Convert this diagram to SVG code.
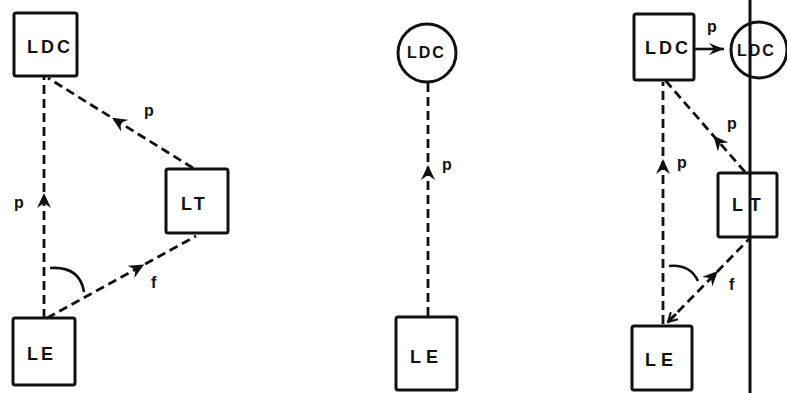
<svg xmlns="http://www.w3.org/2000/svg" width="787" height="393" viewBox="0 0 787 393">
  <style>
    .box { fill: none; stroke: #111; stroke-width: 3; }
    .dash { fill: none; stroke: #111; stroke-width: 2.8; stroke-dasharray: 9 5; }
    .solid { fill: none; stroke: #111; stroke-width: 2.6; }
    .lbl { font-family: "Liberation Sans", Arial, sans-serif; font-weight: bold; font-size: 18px; fill: #111; letter-spacing: 3px; }
    .sym { font-family: "Liberation Sans", Arial, sans-serif; font-weight: bold; font-size: 16px; fill: #111; }
  </style>
  <defs>
    <marker id="head" markerUnits="userSpaceOnUse" markerWidth="16" markerHeight="14" refX="8" refY="7" orient="auto">
      <path d="M0,0 L15,7 L0,14 L5,7 Z" fill="#111"/>
    </marker>
    <marker id="tip" markerUnits="userSpaceOnUse" markerWidth="16" markerHeight="14" refX="15" refY="7" orient="auto">
      <path d="M0,1 L15,7 L0,13 L5,7 Z" fill="#111"/>
    </marker>
    <marker id="open" markerUnits="userSpaceOnUse" markerWidth="12" markerHeight="12" refX="10" refY="6" orient="auto">
      <path d="M1,1 L10,6 L1,11" fill="none" stroke="#111" stroke-width="2"/>
    </marker>
  </defs>
  <rect width="787" height="393" fill="#fff"/>

  <!-- connectors -->
  <g id="connectors">
    <!-- left: LE -> LDC, LT -> LDC, LE -> LT -->
    <path class="dash" d="M44,318 L44,200 L44,77" marker-mid="url(#head)"/>
    <path class="dash" d="M193,168 L118,121.5 L48,78" marker-mid="url(#head)"/>
    <path class="dash" d="M47,318 L138,268 L196,236" marker-mid="url(#head)"/>
    <path class="solid" d="M50,268 Q80,266 84,292"/>
    <text class="sym" x="144" y="116">p</text>
    <text class="sym" x="14" y="208">p</text>
    <text class="sym" x="151" y="288">f</text>

    <!-- middle: LE -> LDC -->
    <path class="dash" d="M428,316 L428,172 L428,82" marker-mid="url(#head)"/>
    <text class="sym" x="442" y="170">p</text>

    <!-- right -->
    <line x1="750" y1="0" x2="750" y2="393" stroke="#111" stroke-width="3"/>
    <path class="solid" d="M695,49 L724,49" marker-end="url(#tip)"/>
    <text class="sym" x="707" y="32">p</text>
    <path class="dash" d="M663,324 L663,166 L663,82" marker-mid="url(#head)"/>
    <text class="sym" x="677" y="168">p</text>
    <path class="dash" d="M745,172 L718,141 L665,80" marker-mid="url(#head)"/>
    <text class="sym" x="727" y="129">p</text>
    <path class="dash" d="M668,322 L713,276 L750,238" marker-mid="url(#head)"/>
    <path class="solid" d="M676,314 L668,322" marker-end="url(#open)"/>
    <path class="solid" d="M669,266 Q690,264 698,281"/>
    <text class="sym" x="729" y="290">f</text>
  </g>

  <!-- left diagram -->
  <g id="ldc-left">
    <rect class="box" x="14" y="13" width="63" height="63" rx="2"/>
    <text class="lbl" x="27" y="53">LDC</text>
  </g>
  <g id="lt-left">
    <rect class="box" x="166" y="169" width="62" height="64" rx="2"/>
    <text class="lbl" x="181" y="210">LT</text>
  </g>
  <g id="le-left">
    <rect class="box" x="13" y="318" width="62" height="67" rx="2"/>
    <text class="lbl" x="27" y="360">LE</text>
  </g>

  <!-- middle diagram -->
  <g id="ldc-middle">
    <circle class="box" cx="427" cy="53" r="29"/>
    <text class="lbl" x="407" y="58" style="font-size:16px;letter-spacing:2px">LDC</text>
  </g>
  <g id="le-middle">
    <rect class="box" x="396" y="317" width="61" height="73" rx="2"/>
    <text class="lbl" x="410" y="363" style="letter-spacing:5px">LE</text>
  </g>

  <!-- right diagram -->
  <g id="ldc-right">
    <rect class="box" x="634" y="14" width="60" height="66" rx="2"/>
    <text class="lbl" x="645" y="54">LDC</text>
  </g>
  <g id="ldc-right-circle">
    <circle class="box" cx="759" cy="50" r="28"/>
    <text class="lbl" x="737" y="56" style="font-size:16px;letter-spacing:2px">LDC</text>
  </g>
  <g id="lt-right">
    <rect class="box" x="718" y="173" width="59" height="64" rx="2"/>
    <text class="lbl" x="732" y="211" style="letter-spacing:8px">LT</text>
  </g>
  <g id="le-right">
    <rect class="box" x="632" y="326" width="60" height="64" rx="2"/>
    <text class="lbl" x="645" y="366" style="letter-spacing:5px">LE</text>
  </g>
</svg>
